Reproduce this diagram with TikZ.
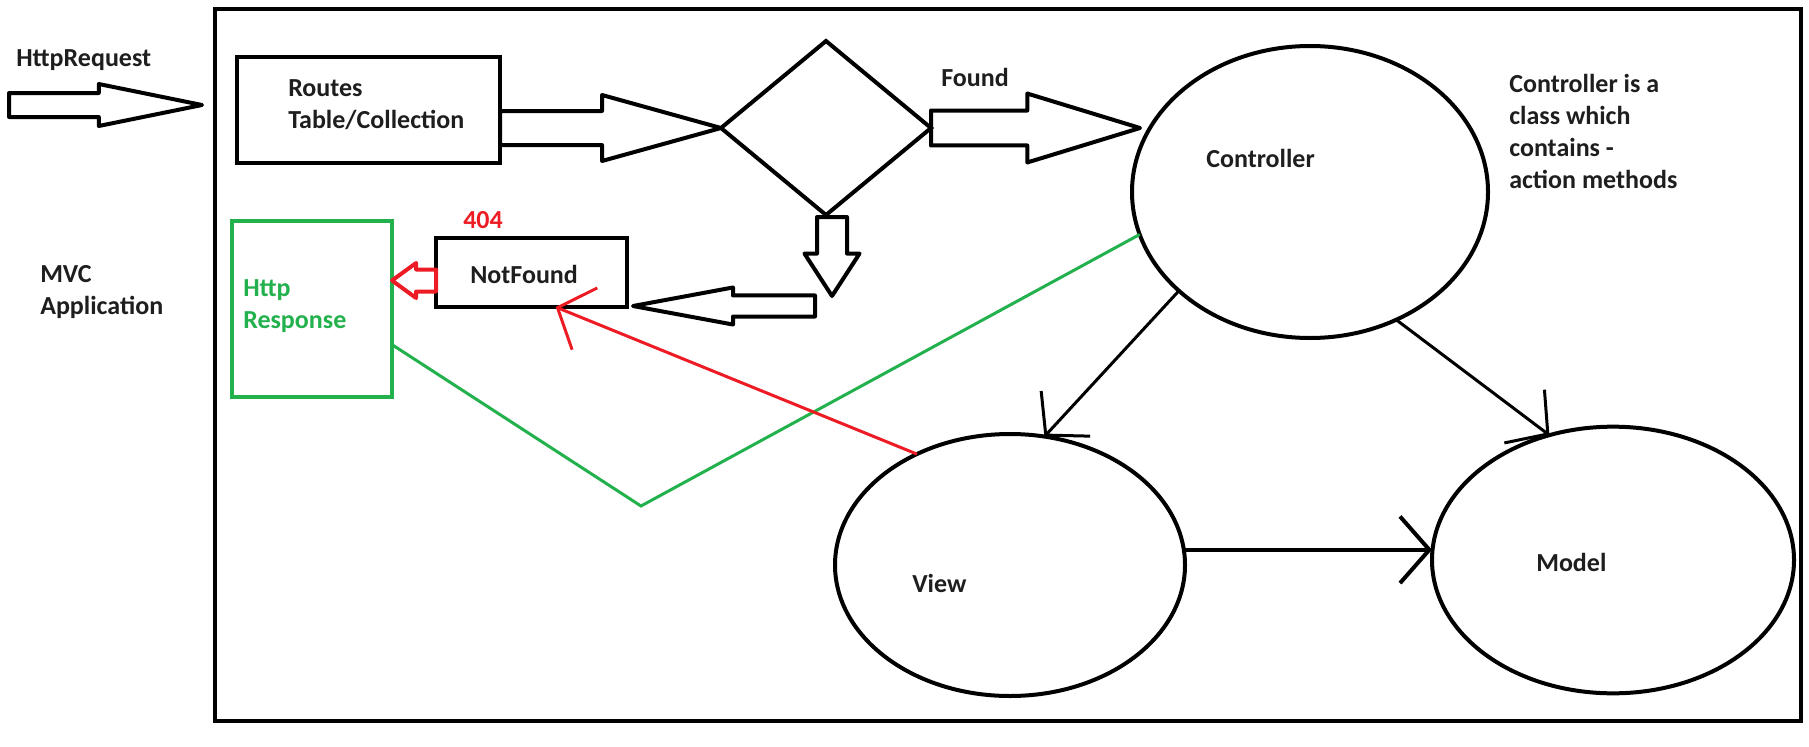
\documentclass[tikz,border=0pt]{standalone}
\usepackage{fontspec}
\setmainfont{Carlito}
\usetikzlibrary{shapes.geometric,shapes.arrows,arrows.meta,calc}

\definecolor{paintgreen}{RGB}{34,177,76}
\definecolor{paintred}{RGB}{237,28,36}
\definecolor{inkgray}{RGB}{30,30,30}

\tikzset{
  lbl/.style={font=\bfseries\fontsize{19.5}{23.5}\selectfont, text=inkgray, inner sep=0pt, anchor=base west, align=left},
  box/.style={draw, line width=3pt, inner sep=0pt, outer sep=0pt},
  blob/.style={ellipse, draw, line width=3pt, inner sep=0pt, outer sep=0pt},
  fatarrow/.style={single arrow, draw, line width=3pt, line join=round, inner xsep=0pt, outer sep=0pt},
  link/.style={line width=2.25pt, -{Straight Barb[length=22pt,width=50pt]}},
}

\begin{document}
\begin{tikzpicture}[x=0.75pt,y=0.75pt,yscale=-1,xscale=1]
	\useasboundingbox (0,0) rectangle (1809,746);
	
	% application frame
	\draw [line width=3pt] (215,9) rectangle (1801,721);
	
	% boxes and shapes
	\node [box, minimum width=197.25pt, minimum height=79.5pt] (routes) at (368.5,110) {};
	\node [box, diamond, minimum width=157.5pt, minimum height=130.5pt] (diam) at (826,128) {};
	\node [box, minimum width=143.25pt, minimum height=51.75pt] (nf) at (531.5,272.5) {};
	\node [box, draw=paintgreen, minimum width=120pt, minimum height=132pt] (resp) at (312,309) {};
	\node [blob, minimum width=267pt, minimum height=219pt] (ctrl) at (1310,192) {};
	\node [blob, minimum width=262.5pt, minimum height=196.5pt] (view) at (1010,565) {};
	\node [blob, minimum width=271.5pt, minimum height=200pt] (model) at (1613,560) {};
	
	% texts (multi-line ones sit on their last baseline)
	\node [lbl] (req) at (16,66) {HttpRequest};
	\node [lbl] (mvc) at (40,314) {MVC\\Application};
	\node [lbl] (routestxt) at (288,128) {Routes\\Table/Collection};
	\node [lbl] (found) at (941,86) {Found};
	\node [lbl, text=paintred] (code) at (463,228) {404};
	\node [lbl] (nftxt) at (470,283) {NotFound};
	\node [lbl, text=paintgreen] (resptxt) at (243,328) {Http\\Response};
	\node [lbl] (ctrltxt) at (1206,167) {Controller};
	\node [lbl, font=\bfseries\fontsize{19.5}{24}\selectfont] (note) at (1509,188) {Controller is a\\class which\\contains -\\action methods};
	\node [lbl] (viewtxt) at (912,592) {View};
	\node [lbl] (modeltxt) at (1536,571) {Model};
	
	% block arrows
	\coordinate (reqtail) at (9,105);
	\node [fatarrow, anchor=tail, inner ysep=7.5pt, single arrow head extend=6.75pt, single arrow tip angle=23, minimum height=144.75pt] (inarrow) at (reqtail) {};
	\node [fatarrow, anchor=tip, inner ysep=11.25pt, single arrow head extend=12pt, single arrow tip angle=31, minimum height=165.75pt] (toroute) at (diam.west) {};
	\node [fatarrow, anchor=tail, inner ysep=11.6pt, single arrow head extend=12.75pt, single arrow tip angle=34, minimum height=156.75pt] (tofound) at (diam.east) {};
	\node [fatarrow, anchor=tail, shape border rotate=270, inner xsep=9.75pt, inner ysep=0pt, single arrow head extend=9.4pt, single arrow tip angle=66, minimum height=59.25pt] (tonot) at ($(diam.south)+(6,2)$) {};
	\node [fatarrow, anchor=tip, shape border rotate=180, inner ysep=6.4pt, single arrow head extend=6pt, single arrow tip angle=21, minimum height=136.5pt] (tonf) at ($(nf.south east)+(6,-1)$) {};
	\node [fatarrow, draw=paintred, anchor=tail, shape border rotate=180, inner ysep=6.75pt, single arrow head extend=4.9pt, single arrow tip angle=72, minimum height=33pt] (toresp) at ($(nf.west)+(0,8)$) {};
	
	% connectors
	\coordinate (gbend) at (641,506);
	\draw [paintgreen, line width=2.25pt] (resp.-24) -- (gbend) -- (ctrl.194);
	\draw [link, paintred] (view.130) -- (nf.-55);
	\draw [link] (ctrl.217) -- (view.75);
	\draw [link] (ctrl.-56) -- (model.117);
	\draw [link, line width=3pt] (view.5) -- (view.5 -| model.west);
	
\end{tikzpicture}
\end{document}
